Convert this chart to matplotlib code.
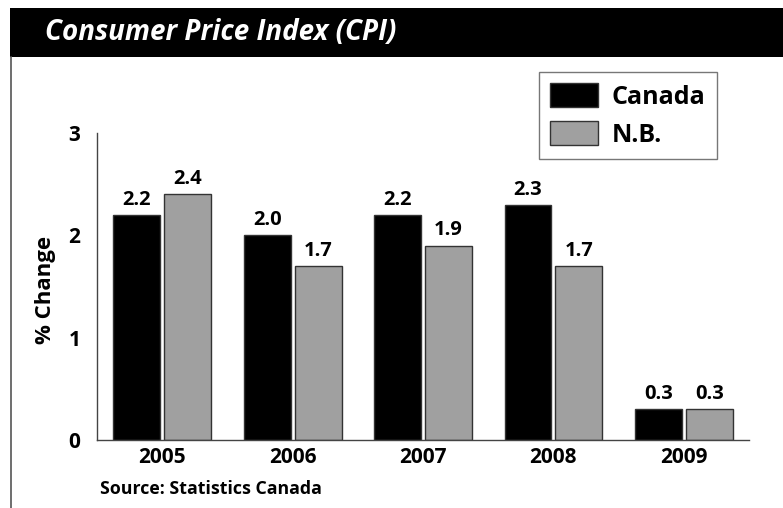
import matplotlib
matplotlib.use("Agg")
import matplotlib.pyplot as plt
import numpy as np
from matplotlib.patches import Rectangle, Patch
from matplotlib.lines import Line2D

years = ["2005", "2006", "2007", "2008", "2009"]
canada = [2.2, 2.0, 2.2, 2.3, 0.3]
nb = [2.4, 1.7, 1.9, 1.7, 0.3]
series_names = ["Canada", "N.B."]
yticks = [0, 1, 2, 3]

FONT = ["Open Sans", "DejaVu Sans"]
plt.rcParams['font.family'] = FONT

fig = plt.figure(figsize=(7.83, 5.08), dpi=100)
W, H = 783, 508

# title bar
fig.patches.append(Rectangle((10 / W, 1 - 57 / H), 1 - 10 / W, 49 / H,
                             transform=fig.transFigure, facecolor="black",
                             edgecolor="none", zorder=0))
fig.text(45 / W, 1 - 33 / H, "Consumer Price Index (CPI)", color="white",
         fontsize=20, fontweight="bold", fontstyle="italic",
         va="center", ha="left")
# left border line
fig.lines.append(Line2D([11 / W, 11 / W], [0, 1 - 57 / H], transform=fig.transFigure,
                        color="#555555", lw=1.2))

ax = fig.add_axes([97 / W, 68 / H, (749 - 97) / W, (440 - 133) / H])
x = np.arange(len(years))
bw = 0.36
off = 0.195
b1 = ax.bar(x - off, canada, bw, color="black", edgecolor="#333333", linewidth=1, label=series_names[0])
b2 = ax.bar(x + off, nb, bw, color="#a0a0a0", edgecolor="#333333", linewidth=1, label=series_names[1])

for bars, vals in ((b1, canada), (b2, nb)):
    for r, v in zip(bars, vals):
        ax.text(r.get_x() + r.get_width() / 2, v + 0.05, f"{v:.1f}", ha="center", va="bottom",
                fontsize=14.5, fontweight="bold", color="black")

ax.set_xlim(-0.5, 4.5)
ax.set_ylim(0, 3)
ax.set_yticks(yticks)
ax.set_yticklabels([str(t) for t in yticks], fontsize=15, fontweight="bold")
ax.set_xticks(x)
ax.set_xticklabels(years, fontsize=15, fontweight="bold")
ax.tick_params(axis="both", length=0)
ax.tick_params(axis="y", pad=12)
ax.tick_params(axis="x", pad=5)
for s in ("top", "right"):
    ax.spines[s].set_visible(False)
for s in ("left", "bottom"):
    ax.spines[s].set_color("#444444")
    ax.spines[s].set_linewidth(1)

fig.text(45 / W, 1 - 290 / H, "% Change", rotation=90, fontsize=16, fontweight="bold",
         ha="center", va="center")
fig.text(100 / W, 1 - 489 / H, "Source: Statistics Canada", fontsize=12.8, fontweight="bold",
         ha="left", va="center")

handles = [Patch(facecolor="black", edgecolor="#333333"),
           Patch(facecolor="#a0a0a0", edgecolor="#333333")]
leg = fig.legend(handles, series_names, loc="upper left",
                 bbox_to_anchor=(539 / W, 1 - 72 / H),
                 prop={"size": 18, "weight": "bold"},
                 frameon=True, fancybox=False, edgecolor="#555555",
                 handlelength=1.9, handleheight=1.1, borderpad=0.45,
                 labelspacing=0.45, handletextpad=0.55, borderaxespad=0)
leg.get_frame().set_linewidth(1)

fig.savefig("out.png", dpi=100)
